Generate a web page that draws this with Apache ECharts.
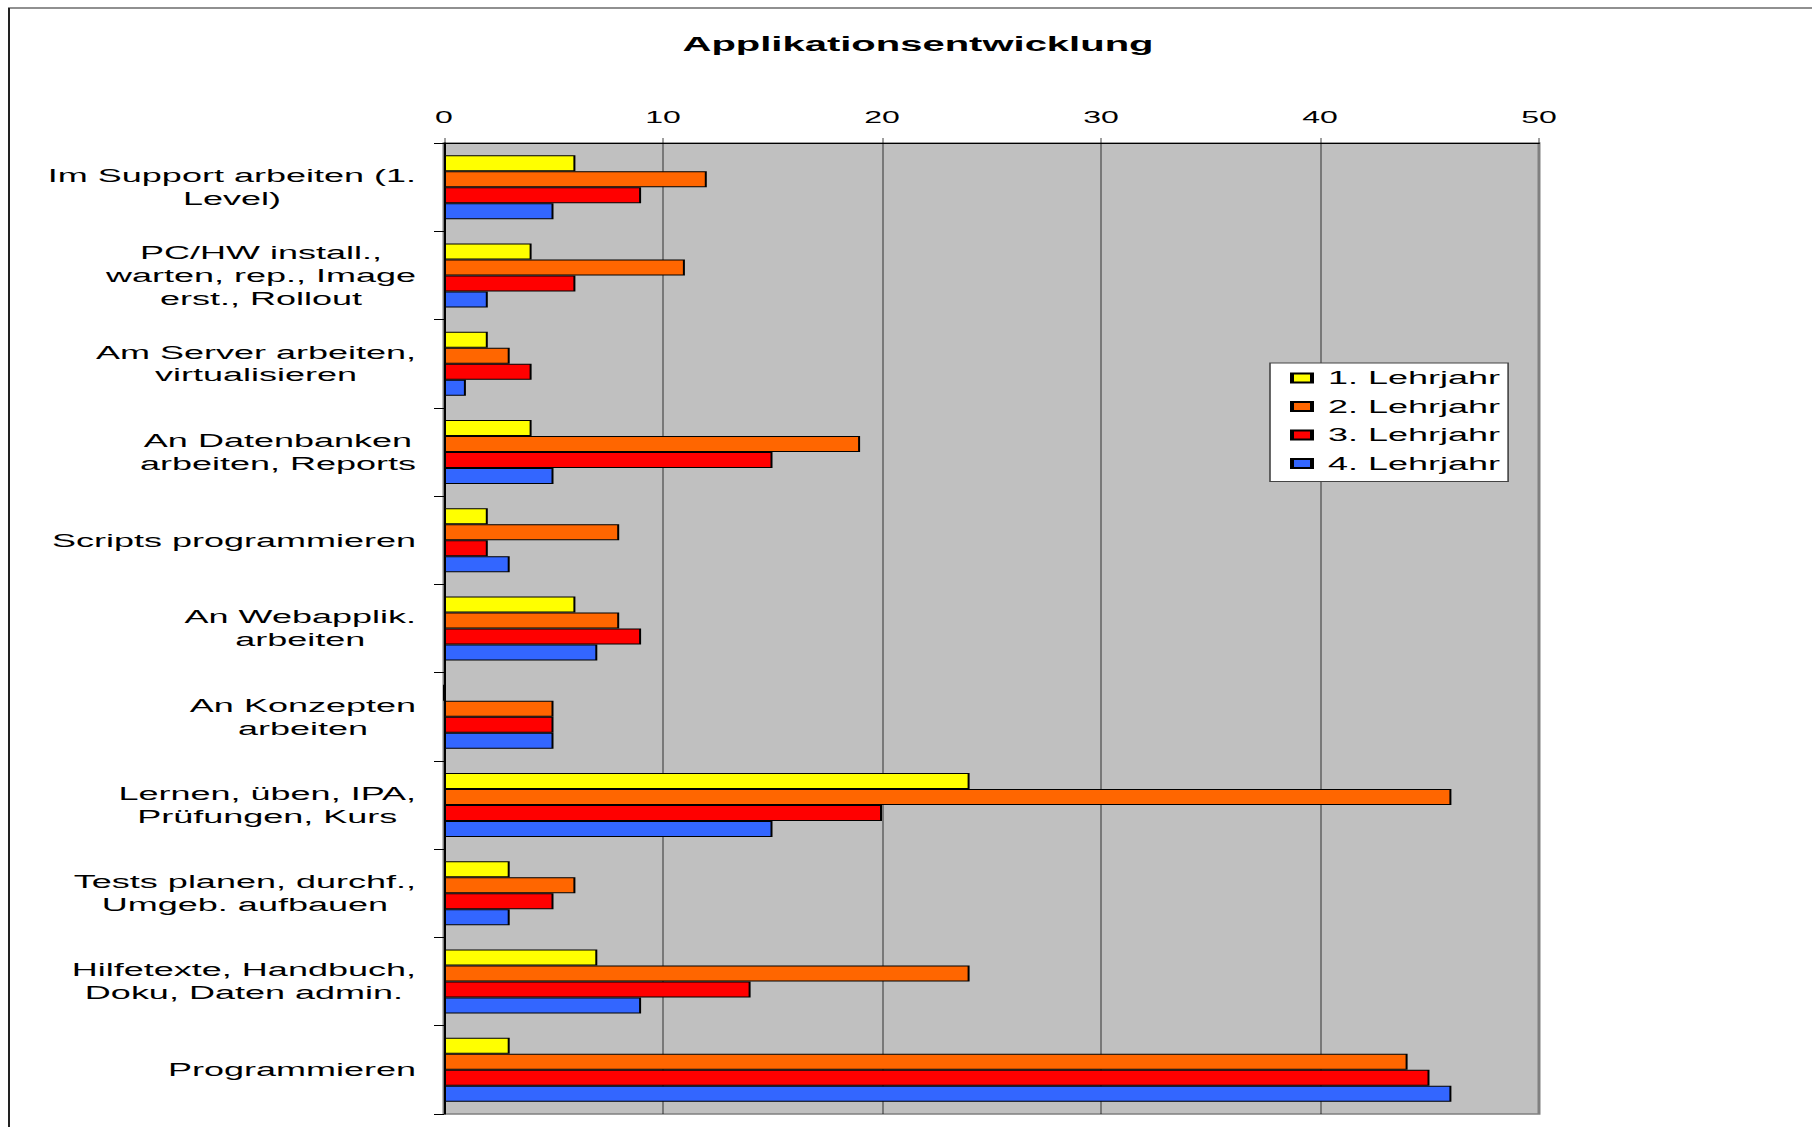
<!DOCTYPE html>
<html>
<head>
<meta charset="utf-8" />
<title>Applikationsentwicklung</title>
<script src="https://cdn.jsdelivr.net/npm/echarts@6.0.0/dist/echarts.min.js"></script>
<style>
  html, body { margin: 0; padding: 0; background: #fff; overflow: hidden; }
  /* das Original ist horizontal gestreckt (ca. 2x): halb so breit zeichnen und strecken */
  #chart { width: 906px; height: 1127px; transform: scaleX(2); transform-origin: 0 0; }
</style>
</head>
<body>
<div id="chart"></div>
<script type="text/javascript">
  var categories = [
    'Im Support arbeiten (1.\nLevel)',
    'PC/HW install.,\nwarten, rep., Image\nerst., Rollout',
    'Am Server arbeiten,\nvirtualisieren',
    'An Datenbanken\narbeiten, Reports',
    'Scripts programmieren',
    'An Webapplik.\narbeiten',
    'An Konzepten\narbeiten',
    'Lernen, üben, IPA,\nPrüfungen, Kurs',
    'Tests planen, durchf.,\nUmgeb. aufbauen',
    'Hilfetexte, Handbuch,\nDoku, Daten admin.',
    'Programmieren'
  ];
  var seriesNames = ['1. Lehrjahr', '2. Lehrjahr', '3. Lehrjahr', '4. Lehrjahr'];
  var lehrjahr1 = [6, 4, 2, 4, 2, 6, 0, 24, 3, 7, 3];
  var lehrjahr2 = [12, 11, 3, 19, 8, 8, 5, 46, 6, 24, 44];
  var lehrjahr3 = [9, 6, 4, 15, 2, 9, 5, 20, 5, 14, 45];
  var lehrjahr4 = [5, 2, 1, 5, 3, 7, 5, 15, 3, 9, 46];
  var colors = ['#ffff00', '#ff6600', '#ff0000', '#3366ff'];

  var font = 'Liberation Sans, Arial, sans-serif';
  var chart = echarts.init(document.getElementById('chart'), null, { renderer: 'svg' });

  var allValues = [lehrjahr1, lehrjahr2, lehrjahr3, lehrjahr4];
  var series = [];
  for (var i = 0; i < seriesNames.length; i++) {
    series.push({
      name: seriesNames[i],
      type: 'bar',
      data: allValues[i],
      barGap: '0%',
      barCategoryGap: '27.5%',
      itemStyle: { color: colors[i], borderColor: '#000', borderWidth: 1 }
    });
  }

  var option = {
    backgroundColor: '#fff',
    animation: false,
    title: {
      text: 'Applikationsentwicklung',
      left: 459,
      top: 34,
      padding: 0,
      textAlign: 'center',
      textStyle: { fontFamily: font, fontWeight: 'bold', fontSize: 20, color: '#000' }
    },
    // Rahmen um das ganze Diagramm
    graphic: [{
      type: 'rect',
      silent: true,
      z: -10,
      shape: { x: 4.5, y: 8, width: 1200, height: 1300 },
      style: { fill: 'none', stroke: '#222', lineWidth: 1 }
    }],
    legend: {
      orient: 'vertical',
      left: 635,
      top: 363,
      padding: [5, 4, 8, 10],
      itemGap: 8.5,
      itemWidth: 10,
      itemHeight: 9,
      icon: 'rect',
      backgroundColor: '#fff',
      borderColor: '#444',
      borderWidth: 0.8,
      textStyle: { fontFamily: font, fontSize: 18, color: '#000', lineHeight: 20, padding: [0, 0, 0, 3] },
      data: seriesNames
    },
    grid: {
      left: 222,
      top: 143,
      width: 547.5,
      height: 971,
      show: true,
      backgroundColor: '#c0c0c0',
      borderColor: '#808080',
      borderWidth: 1.5
    },
    xAxis: {
      type: 'value',
      position: 'top',
      min: 0,
      max: 50,
      interval: 10,
      axisLine: { show: true, lineStyle: { color: '#000', width: 1 } },
      axisTick: { show: true, length: 5, lineStyle: { color: '#000', width: 0.5 } },
      axisLabel: { margin: 18, fontFamily: font, fontSize: 16, color: '#000' },
      splitLine: { show: true, showMaxLine: false, lineStyle: { color: '#000', width: 0.5 } }
    },
    yAxis: {
      type: 'category',
      inverse: true,
      data: categories,
      axisLine: { show: true, lineStyle: { color: '#000', width: 1 } },
      axisTick: { show: true, length: 5, lineStyle: { color: '#000', width: 1 } },
      axisLabel: {
        margin: 14,
        align: 'right',
        formatter: function (value) {
          return value.split('\n').map(function (l) { return '{c|' + l + '}'; }).join('\n');
        },
        rich: {
          c: { align: 'center', fontFamily: font, fontSize: 18, lineHeight: 23, color: '#000' }
        }
      }
    },
    series: series
  };
  chart.setOption(option);
</script>
</body>
</html>
